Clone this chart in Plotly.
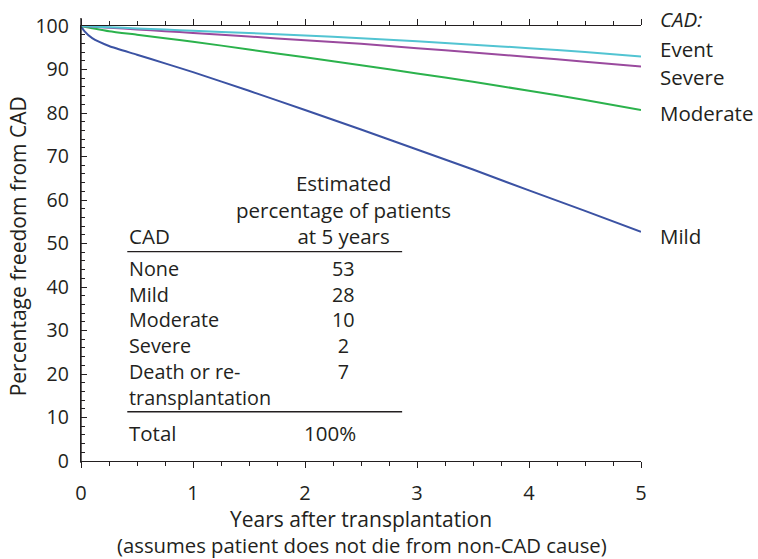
import plotly.graph_objects as go

# ---- data ----
years = [0, 0.03, 0.1, 0.25, 0.5, 0.75, 1, 1.5, 2, 2.5, 3, 3.5, 4, 4.5, 5]
mild = [100, 98.8, 97.2, 95.4, 93.4, 91.4, 89.4, 85.1, 80.7, 76.2, 71.6, 67.0, 62.2, 57.5, 52.7]
moderate = [100, 99.85, 99.5, 98.8, 98.0, 97.2, 96.4, 94.6, 92.8, 91.0, 89.1, 87.2, 85.1, 83.0, 80.7]
severe = [100, 99.95, 99.85, 99.6, 99.2, 98.8, 98.4, 97.6, 96.7, 95.9, 94.9, 93.9, 92.9, 91.8, 90.7]
event = [100, 99.97, 99.9, 99.7, 99.45, 99.2, 98.9, 98.4, 97.8, 97.2, 96.5, 95.7, 94.9, 94.0, 93.0]

series_names = ["Mild", "Moderate", "Severe", "Event"]
series_values = [mild, moderate, severe, event]
series_colors = ["#3b52a3", "#2bb24c", "#9a4a9e", "#52c4d2"]
label_y = [51.7, 79.9, 88.3, 94.7]  # label positions on right

table_header = ["Estimated", "percentage of patients", "at 5 years"]
table_cad = ["None", "Mild", "Moderate", "Severe", "Death or re-", "transplantation"]
table_pct = ["53", "28", "10", "2", "7"]
table_total = "100%"

TXT = "#231f20"
FONT = "Open Sans"
FS = 20.5
FST = 19.8  # table rows

# plot area in pixels
L, R, T, B = 80.7, 641.0, 24.0, 461.0


def px_to_x(px):
    return (px - L) / (R - L) * 5.0


def py_to_y(py):
    return (B - py) / (B - T) * 100.0


def ppx(px):
    return (px - L) / (R - L)


def ppy(py):
    return (B - py) / (B - T)


fig = go.Figure()
for name, vals, col in zip(series_names, series_values, series_colors):
    fig.add_trace(go.Scatter(x=years, y=vals, mode="lines", name=name,
                             line=dict(color=col, width=2, shape="spline", smoothing=0.6),
                             showlegend=False, hoverinfo="skip"))

# right-side labels
fig.add_annotation(x=5, y=ppy(16.7), xref="x", yref="paper", text="<i>CAD:</i>", showarrow=False,
                   xanchor="left", yanchor="middle", xshift=17, font=dict(size=FS, color=TXT))
for name, ly in zip(series_names, label_y):
    fig.add_annotation(x=5, y=ly, xref="x", yref="y", text=name, showarrow=False,
                       xanchor="left", yanchor="middle", xshift=17, font=dict(size=FS, color=TXT))

# table
col1 = px_to_x(127)
col2 = px_to_x(343)


def block(x, py_mid, lines, anchor, size):
    fig.add_annotation(x=x, y=py_to_y(py_mid), text="<br>".join(lines), showarrow=False,
                       xanchor=anchor, yanchor="middle", align=anchor,
                       font=dict(size=size, color=TXT))


block(col2, 208.7, table_header, "center", FS)
block(col1, 235, ["CAD"], "left", FS)
block(col1, 268 + 25.7 * 2.5, table_cad, "left", FST)
block(col2, 268 + 25.7 * 2.0, table_pct, "center", FST)
block(col1, 433, ["Total"], "left", FS)
block(px_to_x(330), 433, [table_total], "center", FS)
for py in [250.7, 411.5]:
    fig.add_shape(type="line", x0=px_to_x(127), x1=px_to_x(402), y0=py_to_y(py), y1=py_to_y(py),
                  xref="x", yref="y", line=dict(color=TXT, width=1.3))

# y-axis spine extension above/below
fig.add_shape(type="line", xref="paper", yref="paper", x0=0, x1=0,
              y0=ppy(463), y1=ppy(16),
              line=dict(color=TXT, width=1.4), layer="above")

# axis titles
fig.add_annotation(xref="paper", yref="paper", x=ppx(361), y=ppy(519),
                   text="Years after transplantation", showarrow=False,
                   xanchor="center", yanchor="middle", font=dict(size=21, color=TXT))
fig.add_annotation(xref="paper", yref="paper", x=ppx(362), y=ppy(545),
                   text="(assumes patient does not die from non-CAD cause)", showarrow=False,
                   xanchor="center", yanchor="middle", font=dict(size=20.3, color=TXT))
fig.add_annotation(xref="paper", yref="paper", x=ppx(18), y=ppy(245),
                   text="Percentage freedom from CAD", showarrow=False, textangle=-90,
                   xanchor="center", yanchor="middle", font=dict(size=21, color=TXT))

fig.update_layout(
    width=758, height=559,
    margin=dict(l=L, r=758 - R, t=T, b=559 - B),
    paper_bgcolor="white", plot_bgcolor="white",
    font=dict(family=FONT, size=FS, color=TXT),
    xaxis=dict(range=[0, 5], tickvals=[0, 1, 2, 3, 4, 5], showline=True, linecolor=TXT,
               linewidth=1.4, mirror="ticks", ticks="outside", ticklen=6, tickwidth=1.2,
               tickcolor=TXT, showgrid=False, zeroline=False, ticklabelstandoff=8,
               minor=dict(dtick=0.25, ticks="outside", ticklen=3.5, tickwidth=1.1, tickcolor=TXT,
                          showgrid=False),
               tickfont=dict(size=20, color=TXT)),
    yaxis=dict(range=[0, 100], tickvals=list(range(0, 101, 10)), showline=True, linecolor=TXT,
               linewidth=1.4, mirror=False, ticks="inside", ticklen=6, tickwidth=1.2,
               tickcolor=TXT, showgrid=False, zeroline=False, ticklabelstandoff=7,
               minor=dict(dtick=2, ticks="inside", ticklen=3.5, tickwidth=1.1, tickcolor=TXT,
                          showgrid=False),
               tickfont=dict(size=19.5, color=TXT)),
)

fig.write_html("out.html")
